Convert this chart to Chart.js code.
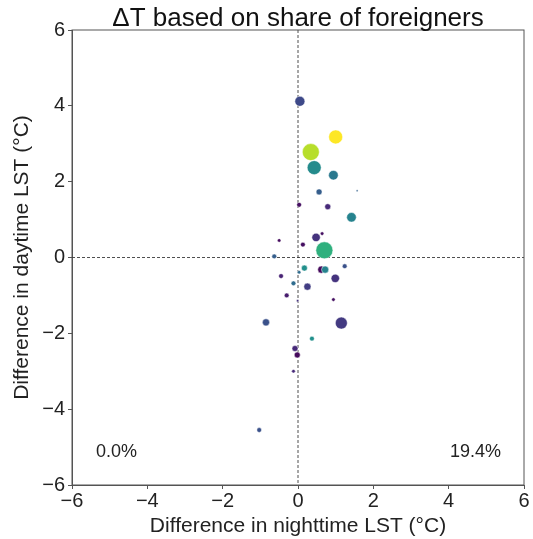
<!DOCTYPE html>
<html>

<head>
    <title>Delta T scatter</title>
    <style>
        body { margin: 0; background: #fff; }
        #wrap { width: 533px; height: 539px; }
    </style>
</head>

<body>
    <div id="wrap"><canvas id="myChart" width="533" height="539"></canvas></div>
    <script src="https://cdn.jsdelivr.net/npm/chart.js@4.4.0/dist/chart.umd.min.js"></script>
    <script type="text/javascript">
        // difference in nighttime / daytime LST per district (°C)
        const nightDiff = [0.05, 1.0, 0.34, 0.43, 0.94, 0.56, 1.57, 0.03, 0.79, 1.42,
            0.48, 0.64, -0.5, 0.13, 0.7, -0.63, 0.17, 0.62, 0.72, 1.24,
            0.03, -0.45, 0.99, -0.12, 0.25, -0.3, -0.01, 0.94, -0.85, 1.15,
            0.37, -0.08, -0.02, -0.12, -1.03];
        const dayDiff = [4.12, 3.18, 2.78, 2.37, 2.17, 1.73, 1.76, 1.39, 1.34, 1.06,
            0.53, 0.63, 0.45, 0.34, 0.19, 0.03, -0.28, -0.32, -0.32, -0.23,
            -0.39, -0.49, -0.55, -0.68, -0.77, -1.0, -1.14, -1.11, -1.71, -1.73,
            -2.14, -2.4, -2.57, -3.0, -4.55];
        // share of foreigners (%)
        const share = [4.3, 19.4, 17.3, 9.3, 7.8, 5.8, 6.0, 0.8, 2.3, 8.7,
            2.9, 0.8, 0.6, 0.8, 12.3, 5.8, 9.7, 0.5, 8.7, 4.9,
            6.8, 1.9, 2.9, 6.8, 3.5, 1.5, 2.9, 0.8, 4.9, 3.3,
            9.7, 2.3, 0.5, 2.3, 4.9];
        // marker radius (px)
        const markerSize = [5, 7, 8.5, 7, 4.8, 3, 1, 2.4, 3, 4.8,
            4.2, 1.8, 1.8, 2.4, 8.5, 2.4, 3, 3.6, 3.6, 2.4,
            1.8, 2.4, 4.2, 2.4, 3.6, 2.4, 1.2, 1.8, 3.6, 6,
            2.4, 3, 3, 1.8, 2.4];
        const xTicks = [-6, -4, -2, 0, 2, 4, 6];
        const yTicks = [-6, -4, -2, 0, 2, 4, 6];
        const shareMin = 0.0, shareMax = 19.4;
        const titleText = '\u0394T based on share of foreigners';

        const viridis = ['#440154', '#482878', '#3e4989', '#31688e', '#26828e',
            '#1f9e89', '#35b779', '#6ece58', '#b5de2b', '#fde725'];

        function hex(c) {
            return [parseInt(c.slice(1, 3), 16), parseInt(c.slice(3, 5), 16), parseInt(c.slice(5, 7), 16)];
        }

        function cmap(v) {
            let t = (v - shareMin) / (shareMax - shareMin);
            t = Math.max(0, Math.min(1, t)) * (viridis.length - 1);
            const i = Math.min(Math.floor(t), viridis.length - 2);
            const f = t - i;
            const a = hex(viridis[i]), b = hex(viridis[i + 1]);
            const c = a.map((x, k) => Math.round(x + (b[k] - x) * f));
            return 'rgb(' + c.join(',') + ')';
        }

        const points = nightDiff.map((x, i) => ({ x: x, y: dayDiff[i], r: markerSize[i] }));
        const colors = share.map(cmap);

        const fontFam = '"Liberation Sans", Arial, sans-serif';
        const minus = v => String(v).replace('-', '\u2212');

        // zero lines, frame, title and corner labels
        const extras = {
            id: 'extras',
            beforeDatasetsDraw(chart) {
                const { ctx, chartArea: a, scales: { x, y } } = chart;
                ctx.save();
                ctx.strokeStyle = '#222';
                ctx.lineWidth = 0.8;
                ctx.setLineDash([3, 2]);
                const x0 = x.getPixelForValue(0), y0 = y.getPixelForValue(0);
                ctx.beginPath();
                ctx.moveTo(x0, a.top); ctx.lineTo(x0, a.bottom);
                ctx.moveTo(a.left, y0); ctx.lineTo(a.right, y0);
                ctx.stroke();
                ctx.restore();
            },
            afterDraw(chart) {
                const { ctx, chartArea: a } = chart;
                ctx.save();
                ctx.strokeStyle = '#555';
                ctx.lineWidth = 1;
                ctx.strokeRect(a.left, a.top, a.right - a.left, a.bottom - a.top);
                ctx.fillStyle = '#111';
                ctx.textBaseline = 'alphabetic';
                ctx.textAlign = 'center';
                ctx.font = '26px ' + fontFam;
                ctx.fillText(titleText, (a.left + a.right) / 2, 26);
                ctx.fillStyle = '#222';
                ctx.font = '18px ' + fontFam;
                ctx.textBaseline = 'middle';
                ctx.textAlign = 'left';
                ctx.fillText(shareMin.toFixed(1) + '%', a.left + 24, a.bottom - 33);
                ctx.textAlign = 'right';
                ctx.fillText(shareMax.toFixed(1) + '%', a.right - 23, a.bottom - 33);
                ctx.restore();
            }
        };

        const ctx = document.getElementById('myChart').getContext('2d');
        new Chart(ctx, {
            type: 'bubble',
            data: {
                datasets: [{
                    data: points,
                    backgroundColor: colors,
                    borderColor: '#ffffff',
                    borderWidth: 0.5,
                    hoverRadius: 0
                }]
            },
            options: {
                responsive: false,
                animation: false,
                layout: { padding: { top: 30, right: 6, left: 0, bottom: 0 } },
                plugins: {
                    legend: { display: false },
                    tooltip: { enabled: false },
                    title: { display: false }
                },
                scales: {
                    x: {
                        type: 'linear',
                        min: -6, max: 6,
                        afterBuildTicks: s => { s.ticks = xTicks.map(v => ({ value: v })); },
                        afterFit: s => { s.height = 54; },
                        grid: { drawOnChartArea: false, drawTicks: true, tickLength: 4, color: '#555' },
                        border: { display: true, color: '#555' },
                        ticks: {
                            color: '#222', padding: 0, maxRotation: 0,
                            font: { family: fontFam, size: 20 },
                            callback: v => minus(v)
                        },
                        title: {
                            display: true, text: 'Difference in nighttime LST (\u00b0C)', color: '#222',
                            font: { family: fontFam, size: 21 }, padding: { top: 0, bottom: 0 }
                        }
                    },
                    y: {
                        type: 'linear',
                        min: -6, max: 6,
                        afterBuildTicks: s => { s.ticks = yTicks.map(v => ({ value: v })); },
                        afterFit: s => { s.width = 72; },
                        grid: { drawOnChartArea: false, drawTicks: true, tickLength: 4, color: '#555' },
                        border: { display: true, color: '#555' },
                        ticks: {
                            color: '#222', padding: 3,
                            font: { family: fontFam, size: 20 },
                            callback: v => minus(v)
                        },
                        title: {
                            display: true, text: 'Difference in daytime LST (\u00b0C)', color: '#222',
                            font: { family: fontFam, size: 21 }, padding: { top: 10, bottom: 0 }
                        }
                    }
                }
            },
            plugins: [extras]
        });
    </script>
</body>

</html>
